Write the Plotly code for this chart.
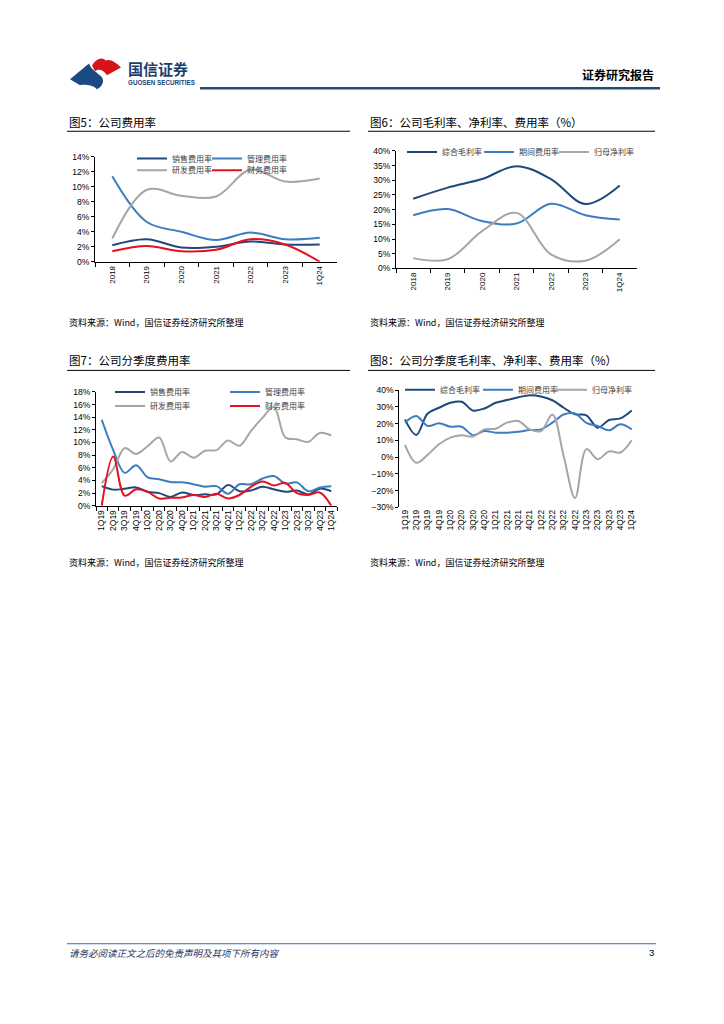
import plotly.graph_objects as go

W, H = 724, 1024


def X(px):
    return px / W


def Y(py):
    return 1 - py / H


# ---------------- data ----------------
years = ["2018", "2019", "2020", "2021", "2022", "2023", "1Q24"]
sales_y = [2.2, 3.0, 1.9, 2.0, 2.7, 2.3, 2.3]
admin_y = [11.4, 5.3, 4.0, 2.9, 3.9, 3.0, 3.2]
rd_y = [3.1, 9.6, 8.8, 8.7, 12.3, 10.7, 11.1]
fin_y = [1.4, 2.1, 1.4, 1.6, 3.0, 2.3, 0.0]

gross_y = [23.7, 27.5, 30.4, 34.8, 30.4, 21.9, 28.2]
period_y = [18.1, 20.2, 16.1, 15.3, 22.0, 18.1, 16.6]
net_y = [3.5, 3.1, 12.7, 18.9, 4.8, 2.6, 9.9]

quarters = ["1Q19", "2Q19", "3Q19", "4Q19", "1Q20", "2Q20", "3Q20", "4Q20",
            "1Q21", "2Q21", "3Q21", "4Q21", "1Q22", "2Q22", "3Q22", "4Q22",
            "1Q23", "2Q23", "3Q23", "4Q23", "1Q24"]
sales_q = [3.1, 2.55, 2.7, 2.9, 2.2, 2.0, 1.4, 2.1, 1.7, 1.8, 1.8, 3.3, 2.3, 2.4,
           3.0, 2.6, 2.2, 2.4, 1.8, 2.7, 2.3]
admin_q = [13.6, 8.8, 5.2, 6.4, 4.5, 4.2, 3.75, 3.7, 3.4, 3.0, 3.1, 1.9, 3.4, 3.4,
           4.3, 4.7, 3.5, 3.7, 2.3, 2.9, 3.1]
rd_q = [3.6, 5.8, 9.1, 8.2, 9.4, 10.8, 7.0, 8.5, 7.6, 8.7, 8.8, 10.3, 9.5, 11.8,
        13.9, 15.6, 10.8, 10.5, 10.1, 11.5, 11.1]
fin_q = [0.0, 7.8, 1.6, 2.6, 2.2, 1.15, 1.25, 1.3, 1.7, 1.4, 1.9, 1.15, 1.7, 3.0,
         3.85, 3.2, 3.6, 2.0, 1.7, 2.1, 0.0]

gross_q = [22.6, 13.3, 26.1, 29.5, 32.5, 33.1, 27.9, 29.1, 32.5, 34.1, 35.8, 37.0,
           36.2, 34.0, 29.5, 25.6, 25.0, 17.6, 22.2, 23.2, 27.9]
period_q = [20.6, 24.6, 18.6, 20.2, 18.2, 18.2, 13.1, 15.6, 14.6, 14.6, 15.2, 16.2,
            16.6, 20.6, 25.5, 26.1, 20.5, 18.6, 16.0, 19.6, 16.6]
net_q = [7.3, -3.4, 1.4, 7.7, 11.7, 13.1, 12.3, 16.6, 17.0, 20.6, 21.6, 16.6, 15.6,
         25.5, 0.5, -24.4, 4.8, -1.2, 3.4, 2.8, 10.1]

names_exp = ["销售费用率", "管理费用率", "研发费用率", "财务费用率"]
names_margin = ["综合毛利率", "期间费用率", "归母净利率"]

NAVY = "#1F497D"
BLUE = "#3C7DC2"
GRAY = "#A6A6A6"
RED = "#E2121F"

CJK = "Noto Sans CJK SC"
LAT = "Liberation Sans"

fig = go.Figure()


def add(xs, ys, name, color, xa, ya, leg):
    fig.add_trace(go.Scatter(
        x=xs, y=ys, name=name, mode="lines",
        line=dict(color=color, width=2, shape="spline", smoothing=1),
        xaxis=xa, yaxis=ya, legend=leg, hoverinfo="skip"))


# chart 5
add(years, sales_y, names_exp[0], NAVY, "x", "y", "legend")
add(years, admin_y, names_exp[1], BLUE, "x", "y", "legend2")
add(years, rd_y, names_exp[2], GRAY, "x", "y", "legend3")
add(years, fin_y, names_exp[3], RED, "x", "y", "legend4")
# chart 6
add(years, gross_y, names_margin[0], NAVY, "x2", "y2", "legend5")
add(years, period_y, names_margin[1], BLUE, "x2", "y2", "legend6")
add(years, net_y, names_margin[2], GRAY, "x2", "y2", "legend7")
# chart 7
add(quarters, sales_q, names_exp[0], NAVY, "x3", "y3", "legend8")
add(quarters, admin_q, names_exp[1], BLUE, "x3", "y3", "legend9")
add(quarters, rd_q, names_exp[2], GRAY, "x3", "y3", "legend10")
add(quarters, fin_q, names_exp[3], RED, "x3", "y3", "legend11")
# chart 8
add(quarters, gross_q, names_margin[0], NAVY, "x4", "y4", "legend12")
add(quarters, period_q, names_margin[1], BLUE, "x4", "y4", "legend13")
add(quarters, net_q, names_margin[2], GRAY, "x4", "y4", "legend14")


def xaxis(x0, x1, cats, anchor, fs, showline=True, ticks="outside"):
    return dict(domain=[X(x0), X(x1)], anchor=anchor, type="category",
                categoryorder="array", categoryarray=cats,
                range=[-0.5, len(cats) - 0.5], showline=showline,
                linecolor="black", linewidth=1, ticks=ticks, ticklen=4,
                tickcolor="black", tickwidth=1, tickson="boundaries",
                tickangle=-90,
                tickfont=dict(family=LAT, size=fs, color="black"),
                showgrid=False, zeroline=False, fixedrange=True)


def yaxis(top, bottom, rng, dtick, anchor):
    return dict(domain=[Y(bottom), Y(top)], anchor=anchor, range=rng,
                dtick=dtick, ticksuffix="%", showline=True, linecolor="black",
                linewidth=1, ticks="outside", ticklen=3, tickcolor="black",
                tickwidth=1,
                tickfont=dict(family=LAT, size=8.5, color="black"),
                showgrid=False, zeroline=False, fixedrange=True)


layout = dict(
    width=W, height=H, margin=dict(l=0, r=0, t=0, b=0),
    paper_bgcolor="white", plot_bgcolor="rgba(0,0,0,0)",
    showlegend=True,
    xaxis=xaxis(95, 337, years, "y", 8),
    yaxis=yaxis(153.3, 259.3, [0, 14], 2, "x"),
    xaxis2=xaxis(396, 637, years, "y2", 8),
    yaxis2=yaxis(147.3, 266, [0, 40], 5, "x2"),
    xaxis3=xaxis(96, 337, quarters, "y3", 8.5),
    yaxis3=yaxis(390.7, 505.7, [0, 18], 2, "x3"),
    xaxis4=xaxis(399.3, 637.4, quarters, "y4", 8.3, showline=False, ticks=""),
    yaxis4=yaxis(389, 507.3, [-30, 40], 10, "x4"),
)
zero_y = 389 + (507.3 - 389) * 40 / 70
x5 = xaxis(399.3, 637.4, quarters, "free", 8)
x5.update(overlaying="x4", anchor="free", position=Y(zero_y),
          showticklabels=False)
x5.pop("domain")
layout["xaxis5"] = x5

# legends: (key, sample-start px, row center px)
leg_pos = {
    "legend": (132, 155), "legend2": (207, 155),
    "legend3": (132, 167), "legend4": (207, 167),
    "legend5": (402, 148.5), "legend6": (479, 148.5), "legend7": (554, 148.5),
    "legend8": (110, 390.7), "legend9": (225, 390.7),
    "legend10": (110, 405), "legend11": (225, 405),
    "legend12": (400, 388.5), "legend13": (478, 388.5), "legend14": (552, 388.5),
}
for k, (lx, ly) in leg_pos.items():
    layout[k] = dict(x=X(lx), y=Y(ly), xanchor="left", yanchor="middle",
                     bgcolor="rgba(0,0,0,0)", borderwidth=0, orientation="h",
                     itemwidth=30, font=dict(family=CJK, size=8, color="#404040"))

fig.update_layout(**layout)

# --------------- page furniture ---------------
ann = []


def text(x, y, s, size, color="black", family=CJK, xanchor="left"):
    ann.append(dict(x=X(x), y=Y(y), xref="paper", yref="paper", text=s,
                    showarrow=False, xanchor=xanchor, yanchor="middle",
                    font=dict(family=family, size=size, color=color)))


text(67, 118, "图5：公司费用率", 11.5)
text(368, 118, "图6：公司毛利率、净利率、费用率（%）", 11.5)
text(67, 359, "图7：公司分季度费用率", 11.5)
text(368, 359, "图8：公司分季度毛利率、净利率、费用率（%）", 11.5)
text(67, 321, "资料来源：Wind，国信证券经济研究所整理", 9)
text(368, 321, "资料来源：Wind，国信证券经济研究所整理", 9)
text(67, 563, "资料来源：Wind，国信证券经济研究所整理", 9)
text(368, 563, "资料来源：Wind，国信证券经济研究所整理", 9)
text(126, 64, "<b>国信证券</b>", 15, color="#1B3F73")
text(126, 78, "<b>GUOSEN SECURITIES</b>", 6.3, color="#1B3F73", family=LAT)
text(656, 70, "<b>证券研究报告</b>", 12, xanchor="right")
text(67, 957, "<i>请务必阅读正文之后的免责声明及其项下所有内容</i>", 9.5, color="#1F3864")
text(656, 957, "3", 9.5, xanchor="right", family=LAT)

shapes = []


def hline(x0, x1, y, color="black", width=1):
    shapes.append(dict(type="line", xref="paper", yref="paper", x0=X(x0),
                       x1=X(x1), y0=Y(y), y1=Y(y),
                       line=dict(color=color, width=width)))


hline(67, 350, 127.5)
hline(368, 655, 127.5)
hline(67, 350, 369)
hline(368, 655, 369)
hline(200, 660, 84, color="#1F4E79", width=2.5)
hline(67, 656, 948, color="#3E6D9C", width=1)


def path(cmds):
    out = []
    for c, pts in cmds:
        coords = []
        for i in range(0, len(pts), 2):
            coords.append(f"{X(pts[i]):.5f},{Y(pts[i + 1]):.5f}")
        out.append(c + " ".join(coords))
    return " ".join(out) + " Z"


red_logo = path([("M", [92, 61]), ("C", [96, 54, 102, 52, 106, 56]),
                 ("C", [110, 54, 116, 58, 121, 63]), ("L", [107, 71]),
                 ("C", [103, 65, 98, 64, 95, 67])])
blue_logo = path([("M", [70, 75]), ("L", [89, 59]),
                  ("C", [91, 65, 97, 68, 101, 72]),
                  ("C", [105, 76, 103, 82, 97, 85]),
                  ("C", [93, 81, 86, 80, 80, 81])])
shapes.append(dict(type="path", xref="paper", yref="paper", path=red_logo,
                   fillcolor="#D7141A", line=dict(width=0)))
shapes.append(dict(type="path", xref="paper", yref="paper", path=blue_logo,
                   fillcolor="#1B4A82", line=dict(width=0)))

fig.update_layout(annotations=ann, shapes=shapes)

fig.write_html("out.html",
               config={"displayModeBar": False},
               post_script="document.body.style.margin='0';"
                           "document.body.style.padding='0';")
